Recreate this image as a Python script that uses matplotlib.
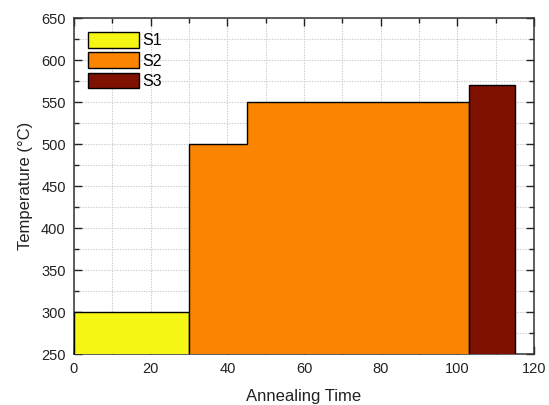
import matplotlib
matplotlib.use('Agg')
import matplotlib.pyplot as plt
from matplotlib.ticker import MultipleLocator

plt.rcParams['font.family'] = ['Liberation Sans', 'DejaVu Sans']

# Data: annealing steps (edges in time, temperature levels)
s1_edges = [0, 30]
s1_temps = [300]
s2_edges = [30, 45, 103]
s2_temps = [500, 550]
s3_edges = [103, 115]
s3_temps = [570]
baseline = 250

fig = plt.figure(figsize=(5.49, 4.05), dpi=100)
ax = fig.add_axes([74 / 549, 1 - 354 / 405, 460 / 549, 336 / 405])

ax.stairs(s1_temps, s1_edges, baseline=baseline, fill=True,
          facecolor='#f6f614', edgecolor='black', linewidth=1.0, label='S1', zorder=3)
ax.stairs(s2_temps, s2_edges, baseline=baseline, fill=True,
          facecolor='#fb8500', edgecolor='black', linewidth=1.0, label='S2', zorder=3)
ax.stairs(s3_temps, s3_edges, baseline=baseline, fill=True,
          facecolor='#7f1100', edgecolor='black', linewidth=1.0, label='S3', zorder=3)

ax.set_xlim(0, 120)
ax.set_ylim(250, 650)
ax.xaxis.set_major_locator(MultipleLocator(20))
ax.xaxis.set_minor_locator(MultipleLocator(10))
ax.yaxis.set_major_locator(MultipleLocator(50))
ax.yaxis.set_minor_locator(MultipleLocator(25))

ax.grid(True, which='both', color='#cccccc', linestyle=(0, (1.2, 1.2)), linewidth=0.8, zorder=0)
ax.set_axisbelow(True)

ax.tick_params(which='both', direction='in', top=True, right=True,
               labelsize=10.5, colors='#222222', pad=6)
ax.tick_params(which='major', length=6, width=1)
ax.tick_params(which='minor', length=3.5, width=1)
for sp in ax.spines.values():
    sp.set_color('#333333')
    sp.set_linewidth(1.1)

ax.set_xlabel('Annealing Time', fontsize=12, color='#222222', labelpad=9)
ax.set_ylabel('Temperature (°C)', fontsize=12, color='#222222', labelpad=6)

leg = ax.legend(loc='upper left', frameon=False, fontsize=11.5,
                handlelength=3.2, handleheight=1.1, handletextpad=0.2,
                labelspacing=0.25, borderaxespad=0.5)

fig.savefig('out.png', dpi=100)
